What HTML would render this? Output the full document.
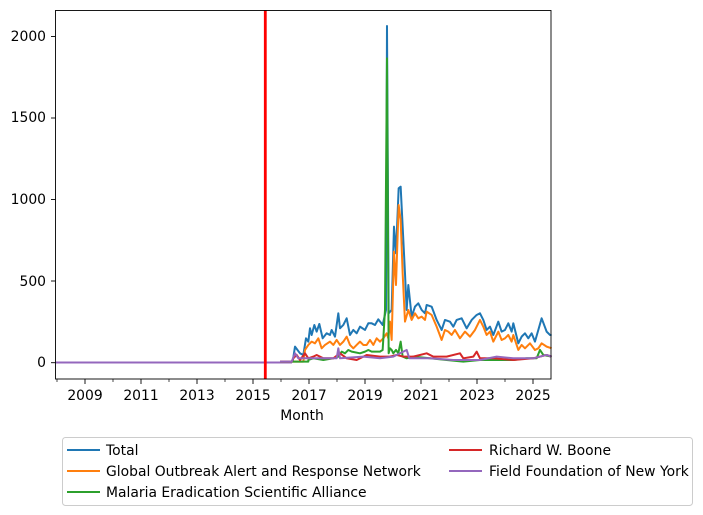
<!DOCTYPE html>
<html><head><meta charset="utf-8"><style>
body{margin:0;background:#fff;}
svg{display:block;font-family:"DejaVu Sans","Liberation Sans",sans-serif;}
</style></head><body>
<svg width="703" height="515" viewBox="0 0 703 515" xmlns="http://www.w3.org/2000/svg">
<rect width="703" height="515" fill="#fff"/>
<g font-size="13.9" fill="#000" text-anchor="end">
<text x="46" y="367">0</text>
<text x="46" y="286">500</text>
<text x="46" y="204">1000</text>
<text x="46" y="122">1500</text>
<text x="46" y="41">2000</text>
</g>
<g stroke="#000" stroke-width="0.9">
<line x1="51" y1="362.7" x2="55.5" y2="362.7"/>
<line x1="51" y1="281" x2="55.5" y2="281"/>
<line x1="51" y1="199.5" x2="55.5" y2="199.5"/>
<line x1="51" y1="118" x2="55.5" y2="118"/>
<line x1="51" y1="36.5" x2="55.5" y2="36.5"/>
<path d="M85 379v5M141 379v5M197 379v5M253 379v5M309 379v5M365 379v5M421 379v5M477 379v5M533 379v5"/>
<path d="M57 379v3M113 379v3M169 379v3M225 379v3M281 379v3M337 379v3M393 379v3M449 379v3M505 379v3" stroke-width="0.7"/>
</g>
<g font-size="13.9" text-anchor="middle">
<text x="85" y="400">2009</text><text x="141" y="400">2011</text><text x="197" y="400">2013</text>
<text x="253" y="400">2015</text><text x="309" y="400">2017</text><text x="365" y="400">2019</text>
<text x="421" y="400">2021</text><text x="477" y="400">2023</text><text x="533" y="400">2025</text>
<text x="302" y="420">Month</text>
</g>
<line x1="55.5" y1="362.5" x2="292" y2="362.5" stroke="#9467bd" stroke-width="2"/>
<g transform="translate(280,20) scale(0.3333)" fill="none" stroke-width="6" stroke-linejoin="round">
<polyline stroke="#1f77b4" points="0,1025 38,1025 45,980 60,1000 70,1005 78,955 85,965 90,925 95,945 103,915 110,935 118,912 128,955 140,940 150,945 155,930 165,950 175,880 180,925 190,915 200,895 210,945 220,930 230,940 240,920 255,930 265,910 275,910 285,915 295,898 308,915 318,870 321,18 326,880 335,870 342,620 348,700 356,505 362,500 368,620 375,760 380,870 385,795 395,890 405,860 415,850 425,870 435,880 440,855 455,860 470,900 485,930 495,900 510,905 520,920 530,900 545,895 560,925 575,900 590,885 600,880 610,900 620,930 630,920 640,945 655,905 665,935 675,930 685,910 695,935 700,910 715,970 725,950 735,940 745,955 755,940 765,965 775,930 785,895 800,935 810,945 815,945"/>
<polyline stroke="#ff7f0e" points="0,1025 70,1025 75,990 85,975 95,965 105,970 115,955 125,985 135,975 150,965 160,975 170,960 180,975 190,965 200,950 210,975 220,985 230,975 240,965 250,975 260,975 270,960 280,975 290,955 300,965 310,955 320,940 325,955 330,905 335,960 342,695 348,795 356,555 362,600 368,760 375,905 385,870 395,900 405,880 415,895 425,890 435,900 440,875 455,885 470,920 485,960 495,930 505,935 515,945 525,930 540,955 555,935 570,950 585,930 600,900 610,920 620,945 630,935 640,965 655,935 665,960 675,955 685,945 695,965 700,945 715,990 725,975 735,985 750,970 765,990 775,985 785,970 800,980 815,985"/>
<polyline stroke="#2ca02c" points="0,1025 85,1025 85,1020 100,1015 130,1020 160,1015 175,1010 185,995 195,1000 205,990 215,995 240,1000 255,995 265,990 275,995 300,995 308,990 315,870 321,115 326,1000 330,985 335,990 340,1000 348,990 355,1000 362,965 368,1010 380,1015 400,1010 450,1015 500,1020 550,1025 600,1020 700,1020 740,1015 770,1015 780,990 790,1005 815,1010"/>
<polyline stroke="#d62728" points="0,1025 35,1025 40,1015 50,1005 60,1020 75,1000 85,1015 100,1010 110,1005 130,1015 160,1015 180,1000 200,1015 230,1020 260,1005 300,1010 330,1010 350,1005 370,1010 400,1010 440,1000 460,1010 500,1010 540,1000 550,1015 580,1010 590,995 600,1015 640,1015 700,1020 760,1015 800,1005 815,1010"/>
<polyline stroke="#9467bd" points="0,1025 35,1025 45,1000 55,1015 100,1015 170,1015 175,985 180,1015 250,1010 300,1015 340,1010 380,990 388,1015 450,1015 520,1020 600,1020 650,1010 700,1015 760,1015 800,1005 815,1010"/>
</g>
<line x1="265.3" y1="10" x2="265.3" y2="379" stroke="#ff0000" stroke-width="2.8"/>
<rect x="55.5" y="10.5" width="495.5" height="368.5" fill="none" stroke="#000" stroke-width="0.9"/>
<rect x="62.5" y="437.5" width="630" height="68" rx="3" fill="#fff" stroke="#ccc" stroke-width="1"/>
<g stroke-width="2">
<line x1="67" y1="450" x2="100" y2="450" stroke="#1f77b4"/>
<line x1="67" y1="471" x2="100" y2="471" stroke="#ff7f0e"/>
<line x1="67" y1="492" x2="100" y2="492" stroke="#2ca02c"/>
<line x1="449" y1="450" x2="482" y2="450" stroke="#d62728"/>
<line x1="449" y1="471" x2="482" y2="471" stroke="#9467bd"/>
</g>
<g font-size="13.9">
<text x="106" y="455">Total</text>
<text x="106" y="476">Global Outbreak Alert and Response Network</text>
<text x="106" y="497">Malaria Eradication Scientific Alliance</text>
<text x="489" y="455">Richard W. Boone</text>
<text x="489" y="476">Field Foundation of New York</text>
</g>
</svg>
</body></html>
